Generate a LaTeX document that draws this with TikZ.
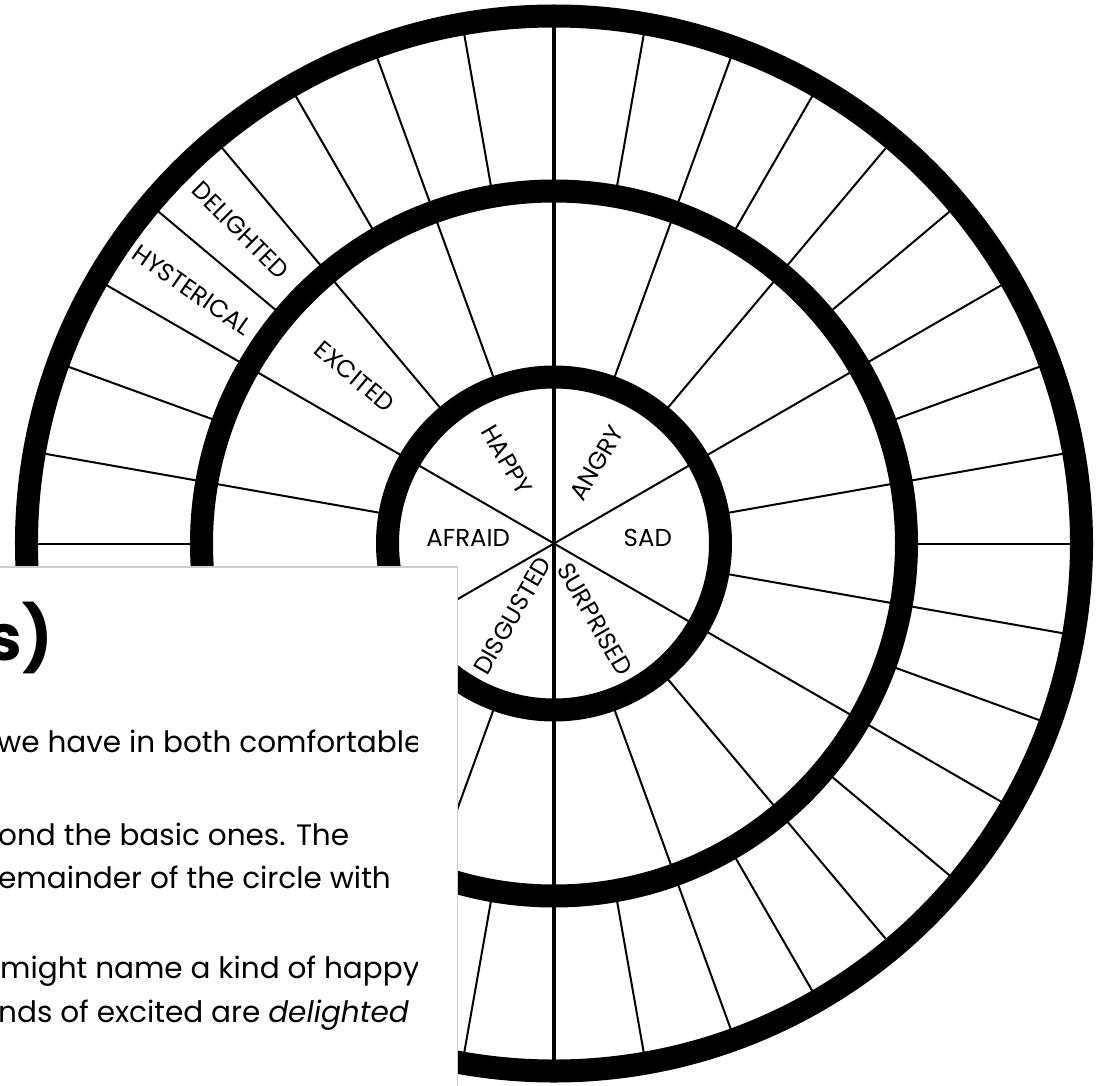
\documentclass[tikz,border=0pt]{standalone}
\usepackage{fontspec}
\setmainfont{Poppins}
\begin{document}
\begin{tikzpicture}[x=1pt, y=1pt,
    ring/.style={line width=23pt},
    spoke/.style={line width=2pt},
    wheellabel/.style={font=\fontsize{24.5}{24.5}\selectfont, inner sep=0pt},
    bodyline/.style={font=\fontsize{29.5}{35}\selectfont, anchor=base west, inner sep=0pt}]

    \useasboundingbox (-554,-541.5) rectangle (553,543.5);

    % Outer band: a spoke every 10 degrees
    \foreach \a in {0,10,...,350}
        \draw[spoke] (\a:352) -- (\a:528);

    % Middle band: a spoke every 20 degrees
    \foreach \a in {10,30,...,350}
        \draw[spoke] (\a:166) -- (\a:352);

    % Core: three diameters, the upright one runs across the whole wheel
    \foreach \a in {30,150}
        \draw[spoke] (\a:166) -- ({\a+180}:166);
    \draw[line width=3.2pt] (90:528) -- (270:528);

    % The three rings
    \draw[ring] (0,0) circle (166.5);
    \draw[ring] (0,0) circle (352.5);
    \draw[ring] (0,0) circle (527.5);

    % Basic feelings
    \node[wheellabel] (sad) at (3.5:94) {SAD};
    \node[wheellabel] (afraid) at (176:86) {AFRAID};
    \node[wheellabel, rotate=-60] (happy) at (119.5:96) {HAPPY};
    \node[wheellabel, rotate=60] (angry) at (62:91) {ANGRY};
    \node[wheellabel, rotate=60] (disgusted) at (240:83) {DISGUSTED};
    \node[wheellabel, rotate=-60] (surprised) at (298.4:86) {SURPRISED};

    % Kinds of happy, and kinds of excited
    \node[wheellabel, rotate=-40] (excited) at (140:260) {EXCITED};
    \node[wheellabel, rotate=-45] (delighted) at (135:443) {DELIGHTED};
    \node[wheellabel, rotate=-35] (hysterical) at (145:442) {HYSTERICAL};

    % The page that lies over the wheel
    \draw[fill=white, draw=gray!40, line width=1.5pt] (-560,-547) rectangle (-96.5,-23.5);
    \begin{scope}
        \clip (-554,-541.5) rectangle (-136,-23.5);
        \node[anchor=base east, inner sep=0pt, font=\fontsize{64}{64}\selectfont\bfseries] (heading) at (-501,-116.5) {s)};
        \node[bodyline] (lineA) at (-557,-208.5) {we have in both comfortable};
        \node[bodyline] (lineB) at (-556,-301.5) {ond the basic ones. The};
        \node[bodyline] (lineC) at (-556,-344.5) {emainder of the circle with};
        \node[bodyline] (lineD) at (-554,-434.5) {might name a kind of happy};
        \node[bodyline] (lineE) at (-556,-478.5) {nds of excited are \textit{delighted}};
    \end{scope}

\end{tikzpicture}
\end{document}
